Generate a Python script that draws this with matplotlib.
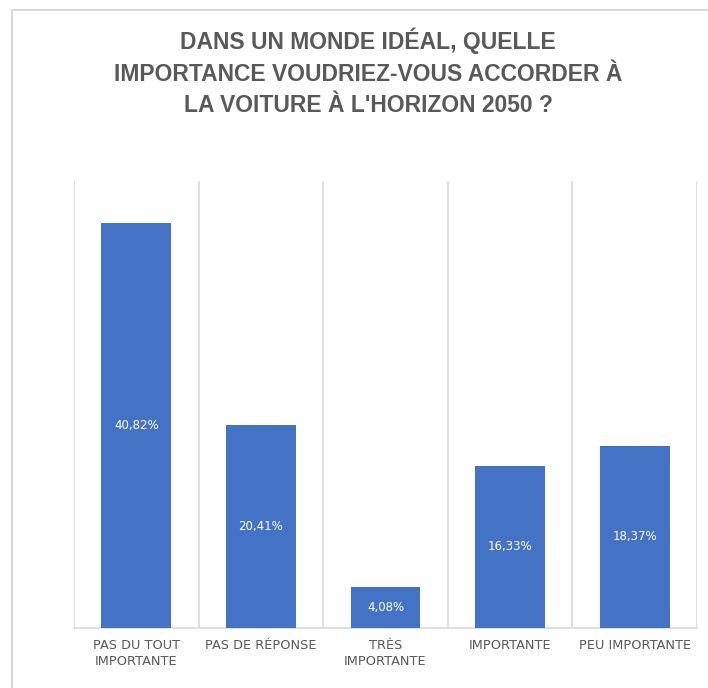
import matplotlib.pyplot as plt
import numpy as np
from matplotlib.patches import Rectangle

categories = ["PAS DU TOUT\nIMPORTANTE", "PAS DE RÉPONSE", "TRÈS\nIMPORTANTE",
              "IMPORTANTE", "PEU IMPORTANTE"]
values = [40.82, 20.41, 4.08, 16.33, 18.37]
labels = ["40,82%", "20,41%", "4,08%", "16,33%", "18,37%"]

title = "DANS UN MONDE IDÉAL, QUELLE\nIMPORTANCE VOUDRIEZ-VOUS ACCORDER À\nLA VOITURE À L'HORIZON 2050 ?"

bar_color = "#4472C4"
grid_color = "#d9d9d9"
text_color = "#595959"

fig = plt.figure(figsize=(7.08, 6.88), dpi=100)

# light frame around the chart area (clipped on the right and bottom)
fig.patches.append(Rectangle((12 / 708, -0.05), 1.2, (678 / 688) + 0.05,
                             transform=fig.transFigure, fill=False,
                             edgecolor=grid_color, linewidth=1.5))

ax = fig.add_axes([74 / 708, 60 / 688, 623 / 708, 447 / 688])

x = np.arange(len(categories))
bars = ax.bar(x, values, width=0.56, color=bar_color, zorder=3)

for b, lab in zip(bars, labels):
    ax.text(b.get_x() + b.get_width() / 2, b.get_height() / 2, lab,
            ha="center", va="center", color="white", fontsize=8.5, zorder=4)

ax.set_xlim(-0.5, len(categories) - 0.5)
ax.set_ylim(0, 45)
ax.set_yticks([])
ax.set_xticks(x)
ax.set_xticklabels(categories, fontsize=9.3, color=text_color, linespacing=1.3)
ax.tick_params(axis="x", length=0, pad=8)

# vertical separators between categories
ax.set_xticks(np.arange(-0.5, len(categories), 1), minor=True)
ax.tick_params(axis="x", which="minor", length=0)
ax.grid(which="minor", axis="x", color=grid_color, linewidth=1.2, zorder=0)

for s in ["top", "left", "right"]:
    ax.spines[s].set_visible(False)
ax.spines["bottom"].set_color(grid_color)
ax.spines["bottom"].set_linewidth(1.2)

fig.text(368 / 708, 1 - 28 / 688, title, ha="center", va="top",
         fontsize=16.5, fontweight="bold", color=text_color,
         linespacing=1.45, family="Liberation Sans")

fig.savefig("out.png", dpi=100)
